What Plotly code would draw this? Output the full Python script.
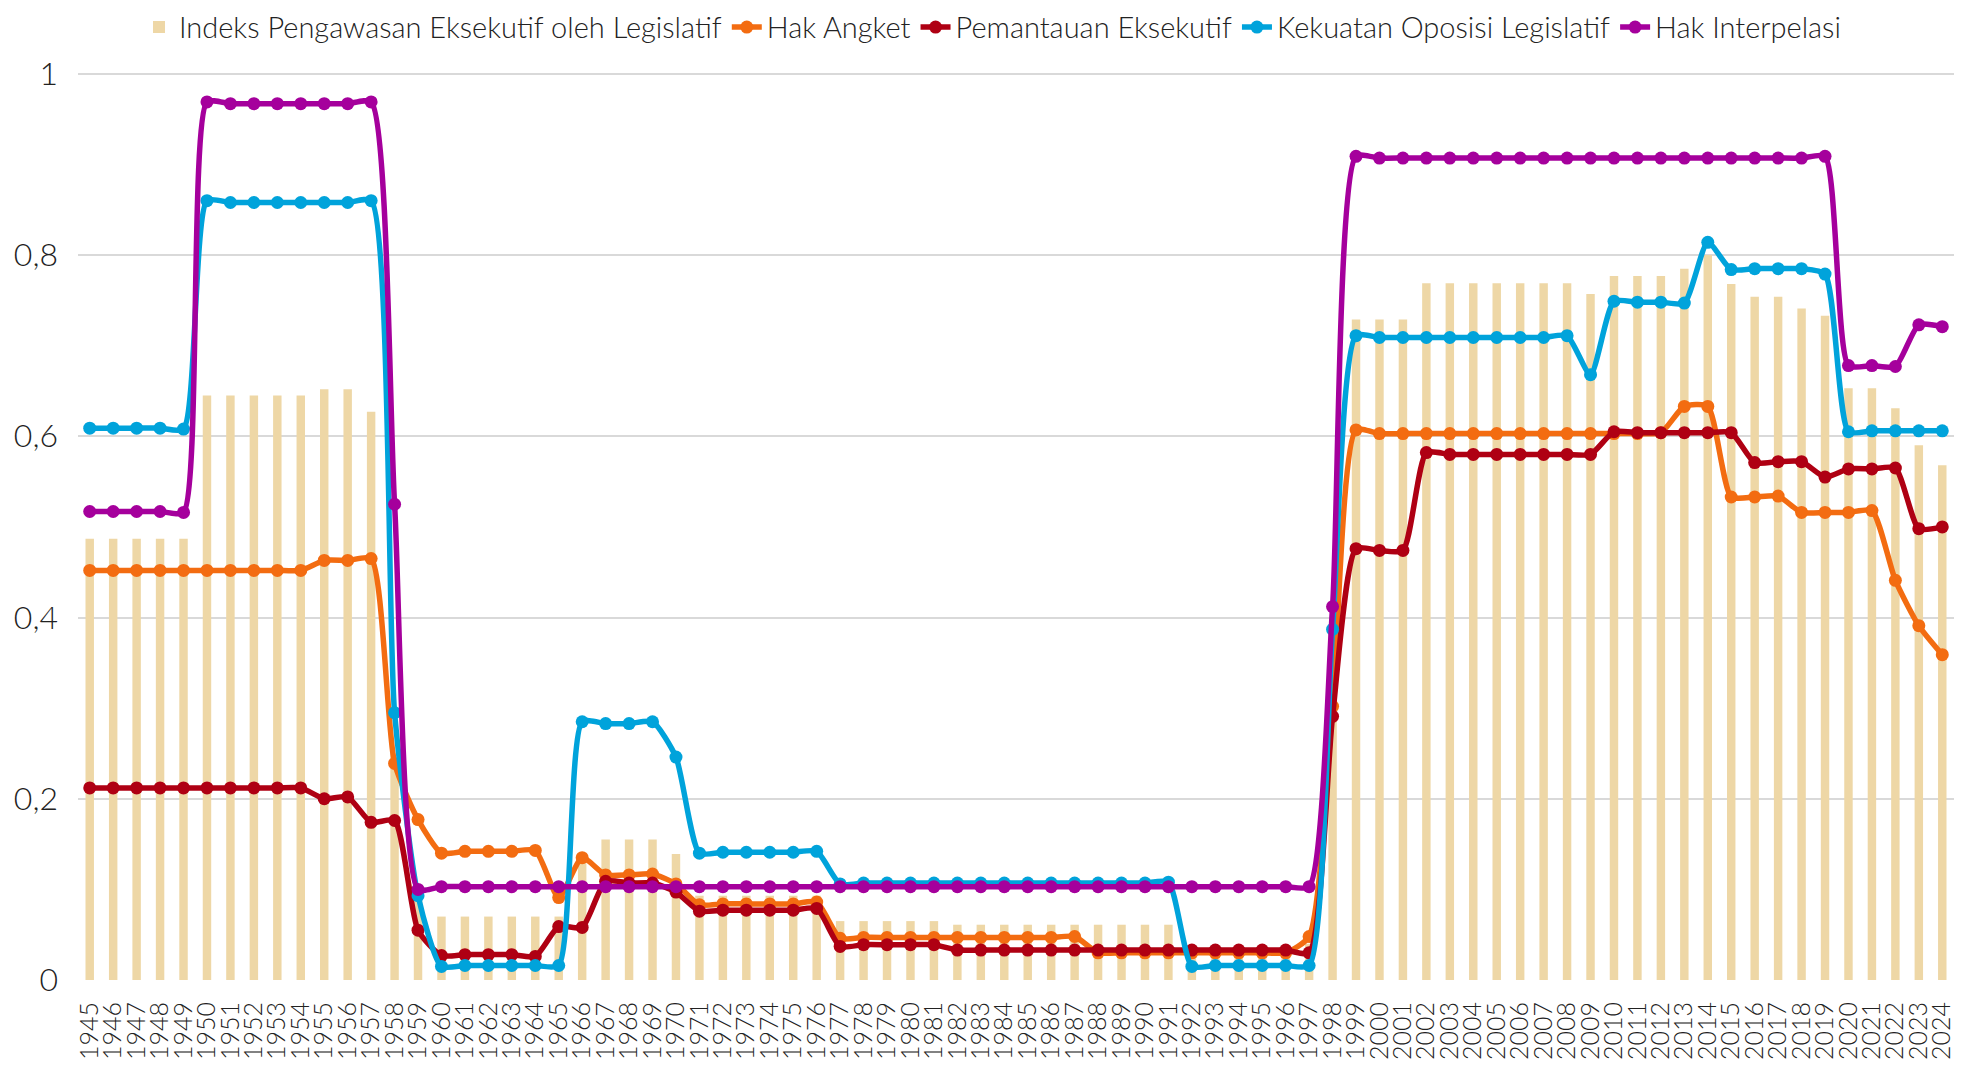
import plotly.graph_objects as go

years = [str(y) for y in range(1945, 2025)]

indeks = [0.487] * 5 + [0.645] * 5 + [0.652, 0.652, 0.627, 0.25, 0.10] + [0.070] * 5 + \
         [0.07, 0.13, 0.155, 0.155, 0.155, 0.139] + [0.093] * 6 + [0.065] * 5 + [0.061] * 10 + \
         [0.025] * 5 + [0.04, 0.39] + [0.729] * 3 + [0.769] * 7 + [0.757, 0.777, 0.777, 0.777, 0.785,
         0.80, 0.768, 0.754, 0.754, 0.741, 0.733, 0.653, 0.653, 0.631, 0.590, 0.568]

hak_angket = [0.452] * 10 + [0.463, 0.463, 0.465, 0.239, 0.177, 0.140, 0.142, 0.142, 0.142, 0.143,
              0.091, 0.135, 0.116, 0.116, 0.117, 0.106, 0.083, 0.084, 0.084, 0.084, 0.084, 0.086,
              0.046] + [0.047] * 9 + [0.048] + [0.030] * 9 + [0.048, 0.302, 0.607] + [0.603] * 12 + \
             [0.604, 0.633, 0.633, 0.533, 0.533, 0.534, 0.516, 0.516, 0.516, 0.518, 0.441, 0.391, 0.359]

pemantauan = [0.212] * 10 + [0.200, 0.202, 0.174, 0.176, 0.055, 0.027, 0.028, 0.028, 0.028, 0.026,
              0.059, 0.058, 0.109, 0.107, 0.107, 0.097, 0.076, 0.077, 0.077, 0.077, 0.077, 0.079,
              0.037, 0.039, 0.039, 0.039, 0.039] + [0.033] * 15 + [0.030, 0.291, 0.476, 0.474, 0.474,
              0.582] + [0.580] * 7 + [0.605] + [0.604] * 5 + [0.571, 0.572, 0.572, 0.555, 0.564, 0.564,
              0.565, 0.498, 0.500]

oposisi = [0.609] * 4 + [0.608, 0.860] + [0.858] * 6 + [0.860, 0.295, 0.093, 0.015, 0.016, 0.016,
           0.016, 0.016, 0.016, 0.285, 0.283, 0.283, 0.285, 0.246, 0.140, 0.141, 0.141, 0.141, 0.141,
           0.142, 0.106] + [0.107] * 13 + [0.108, 0.015, 0.016, 0.016, 0.016, 0.016, 0.016, 0.387,
           0.711] + [0.709] * 8 + [0.711, 0.668, 0.749, 0.748, 0.748, 0.747, 0.814, 0.784, 0.785, 0.785,
           0.785, 0.779, 0.605, 0.606, 0.606, 0.606, 0.606]

interpelasi = [0.517] * 4 + [0.516, 0.969] + [0.967] * 6 + [0.969, 0.525, 0.100] + [0.103] * 37 + \
              [0.103, 0.412, 0.909] + [0.907] * 19 + [0.909, 0.678, 0.678, 0.677, 0.723, 0.721]

y_ticks = [0, 0.2, 0.4, 0.6, 0.8, 1]
y_labels = ["0", "0,2", "0,4", "0,6", "0,8", "1"]

FONT = "Lato"

fig = go.Figure()

fig.add_trace(go.Bar(x=years, y=indeks, name="Indeks Pengawasan Eksekutif oleh Legislatif",
                     marker=dict(color="#EED7A6", line=dict(width=0))))

# lines
lines = [
    ("Hak Angket", hak_angket, "#F36C11"),
    ("Pemantauan Eksekutif", pemantauan, "#AF0013"),
    ("Kekuatan Oposisi Legislatif", oposisi, "#00A3DB"),
    ("Hak Interpelasi", interpelasi, "#A5009C"),
]
for name, vals, col in lines:
    fig.add_trace(go.Scatter(x=years, y=vals, name=name, mode="lines+markers",
                             line=dict(color=col, width=5.5, shape="spline", smoothing=0.6),
                             marker=dict(color=col, size=13)))

# page body adds ~8px offset, margins compensate
fig.update_layout(
    width=1969, height=1070,
    margin=dict(l=70, r=23, t=64, b=98),
    plot_bgcolor="white", paper_bgcolor="white",
    font=dict(family=FONT, size=26, color="#222222", weight=300),
    bargap=0.64,
    legend=dict(orientation="h", x=0.5, xanchor="center", xref="container",
                y=0.982, yanchor="middle", yref="container",
                font=dict(size=29), itemwidth=30, tracegroupgap=0),
    xaxis=dict(type="category", tickangle=-90, showgrid=False, showline=False,
               ticks="outside", ticklen=11, tickcolor="rgba(0,0,0,0)",
               tickfont=dict(size=25), range=[-0.5, 79.5],
               tickmode="array", tickvals=years, automargin=False),
    yaxis=dict(range=[0, 1.002], tickvals=y_ticks, ticktext=y_labels, showgrid=True,
               gridcolor="#D9D9D9", gridwidth=2, zeroline=False, showline=False,
               ticks="", tickfont=dict(size=32), ticklabelstandoff=19, automargin=False),
)

fig.write_html("out.html")
